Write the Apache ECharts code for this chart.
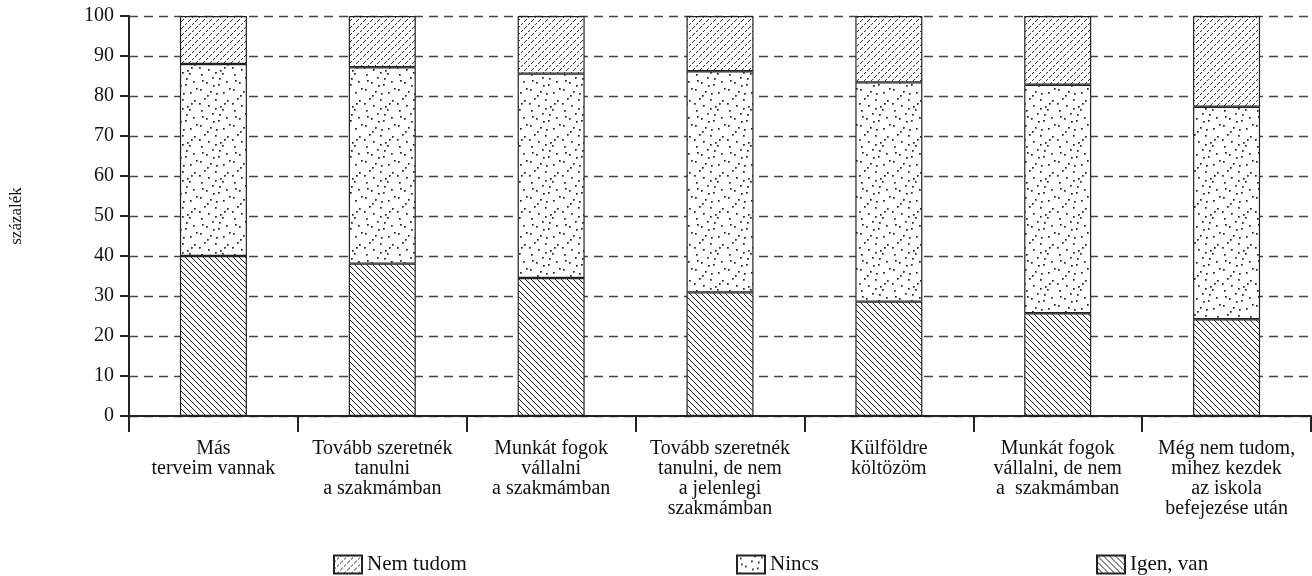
<!DOCTYPE html>
<html>
<head>
<meta charset="utf-8">
<title>Tervek</title>
<script src="https://cdn.jsdelivr.net/npm/echarts@6/dist/echarts.min.js"></script>
<style>
  html, body { margin: 0; padding: 0; background: #fff; }
  #chart { width: 1312px; height: 576px; }
</style>
</head>
<body>
<div id="chart"></div>
<script>
// adatok
const categories = [
  'Más\nterveim vannak',
  'Tovább szeretnék\ntanulni\na szakmámban',
  'Munkát fogok\nvállalni\na szakmámban',
  'Tovább szeretnék\ntanulni, de nem\na jelenlegi\nszakmámban',
  'Külföldre\nköltözöm',
  'Munkát fogok\nvállalni, de nem\na  szakmámban',
  'Még nem tudom,\nmihez kezdek\naz iskola\nbefejezése után'
]
const igenVan = [40, 38.1, 34.5, 30.9, 28.6, 25.7, 24.2]
const nincs = [48, 49.1, 51.1, 55.3, 54.8, 57.1, 53.1]
const nemTudom = [12, 12.8, 14.4, 13.8, 16.6, 17.2, 22.7]
const yTicks = [0, 100, 10] // min, max, lépés

// mintázatok (sraffozás)
const makeTile = (w, h, draw) => {
  const c = document.createElement('canvas')
  c.width = w
  c.height = h
  const ctx = c.getContext('2d')
  ctx.fillStyle = '#fff'
  ctx.fillRect(0, 0, w, h)
  ctx.fillStyle = '#222'
  draw(ctx)
  return { image: c, repeat: 'repeat' }
}

// "\" vonalak
const backSlash = makeTile(6, 6, ctx => {
  for (let i = 0; i < 6; i++) ctx.fillRect(i, i, 1, 1)
})

// "/" pontozott vonalak
const fwdSlash = makeTile(7, 7, ctx => {
  ctx.fillStyle = '#333'
  for (let i = 0; i < 7; i++) {
    if (i % 3 !== 2) ctx.fillRect(i, 6 - i, 1, 1)
  }
})

// szórt pontok
const dotSpots = [
  [3, 2], [14, 5], [24, 1], [8, 10], [20, 12], [28, 9], [17, 0],
  [2, 17], [12, 19], [25, 20], [6, 26], [17, 27], [29, 28], [10, 33], [22, 34],
  [31, 16], [15, 13], [4, 8], [21, 6], [9, 23], [26, 31], [1, 31], [18, 21]
]
const dots = makeTile(33, 36, ctx => {
  dotSpots.forEach(([x, y]) => ctx.fillRect(x, y, 1.7, 1.7))
})

const font = 'Liberation Serif'
const barStyle = { borderColor: '#222', borderWidth: 1.2 }

const chart = echarts.init(document.getElementById('chart'))

const legendAt = (name, left) => ({
  data: [name],
  left: left,
  top: 549,
  itemWidth: 28,
  itemHeight: 18,
  itemGap: 6,
  icon: 'rect',
  textStyle: { fontFamily: font, fontSize: 21, color: '#111' },
  selectedMode: false
})

const option = {
  animation: false,
  textStyle: { fontFamily: font },
  grid: { left: 128, right: 1, top: 16, bottom: 160 },
  legend: [
    legendAt('Nem tudom', 328),
    legendAt('Nincs', 731),
    legendAt('Igen, van', 1091)
  ],
  xAxis: {
    type: 'category',
    data: categories,
    axisLine: { lineStyle: { color: '#222', width: 2 } },
    axisTick: { show: true, length: 16, lineStyle: { color: '#222', width: 2 } },
    axisLabel: {
      interval: 0,
      margin: 23,
      fontFamily: font,
      fontSize: 20,
      lineHeight: 20,
      color: '#111',
      align: 'center'
    }
  },
  yAxis: {
    type: 'value',
    min: yTicks[0],
    max: yTicks[1],
    interval: yTicks[2],
    name: 'százalék',
    nameLocation: 'middle',
    nameGap: 104,
    nameRotate: 90,
    nameTextStyle: { fontFamily: font, fontSize: 17, color: '#111' },
    axisLine: { show: true, lineStyle: { color: '#222', width: 2 } },
    axisTick: { show: true, length: 9, lineStyle: { color: '#222', width: 2 } },
    axisLabel: { margin: 15, fontFamily: font, fontSize: 20, color: '#111' },
    splitLine: { lineStyle: { color: '#444', type: [9, 6], width: 1.3 } }
  },
  series: [
    {
      name: 'Igen, van',
      type: 'bar',
      stack: 'total',
      barWidth: 67,
      data: igenVan,
      itemStyle: Object.assign({ color: backSlash }, barStyle)
    },
    {
      name: 'Nincs',
      type: 'bar',
      stack: 'total',
      barWidth: 67,
      data: nincs,
      itemStyle: Object.assign({ color: dots }, barStyle)
    },
    {
      name: 'Nem tudom',
      type: 'bar',
      stack: 'total',
      barWidth: 67,
      data: nemTudom,
      itemStyle: Object.assign({ color: fwdSlash }, barStyle)
    }
  ]
}

chart.setOption(option)
</script>
</body>
</html>
